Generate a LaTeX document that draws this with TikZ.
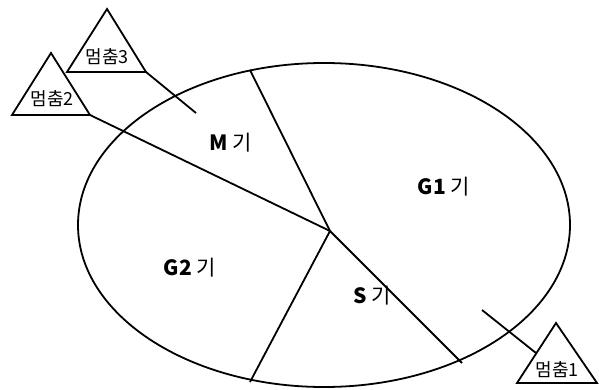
\documentclass[tikz,border=0pt]{standalone}
\usepackage{fontspec}
\setmainfont{Noto Sans CJK KR}
\begin{document}
\begin{tikzpicture}[x=1pt,y=-1pt,line width=1.8pt,
  phase/.style={font=\fontsize{21}{23}\selectfont},
  stopmark/.style={font=\fontsize{18}{20}\selectfont}]
  \useasboundingbox (0,0) rectangle (599,390);
  % cell cycle ring
  \draw (324,225) ellipse [x radius=246, y radius=162];
  % phase borders, all from the centre
  \coordinate (c) at (330,231);
  \coordinate (mg) at (250,70);
  \coordinate (gs) at (250,382);
  \coordinate (sg) at (462,363);
  % stop 3 (top)
  \coordinate (t3a) at (107,9);
  \coordinate (t3l) at (67,72);
  \coordinate (t3r) at (146,72);
  \draw (t3a) -- (t3l) -- (t3r) -- cycle;
  \node[stopmark] (s3) at (107,57) {멈춤3};
  % stop 2 (left)
  \coordinate (t2a) at (51,53);
  \coordinate (t2l) at (12,115);
  \coordinate (t2r) at (90,115);
  \draw (t2a) -- (t2l) -- (t2r) -- cycle;
  \node[stopmark] (s2) at (52,99) {멈춤2};
  % stop 1 (bottom right)
  \coordinate (t1a) at (556,323);
  \coordinate (t1l) at (517,383);
  \coordinate (t1r) at (597,383);
  \draw (t1a) -- (t1l) -- (t1r) -- cycle;
  \node[stopmark] (s1) at (557,370) {멈춤1};
  % borders
  \draw (c) -- (mg);
  \draw (c) -- (t2r);
  \draw (c) -- (gs);
  \draw (c) -- (sg);
  % pointers to the stops
  \coordinate (p3) at (196,113);
  \draw (t3r) -- (p3);
  \coordinate (p1) at (482,310);
  \coordinate (q1) at (536,353);
  \draw (p1) -- (q1);
  % phase names
  \node[phase] (m) at (231,143) {\textbf{M} 기};
  \node[phase] (g1) at (444,187) {\textbf{G1} 기};
  \node[phase] (g2) at (190,268) {\textbf{G2} 기};
  \node[phase] (s) at (372,296) {\textbf{S} 기};
\end{tikzpicture}
\end{document}
